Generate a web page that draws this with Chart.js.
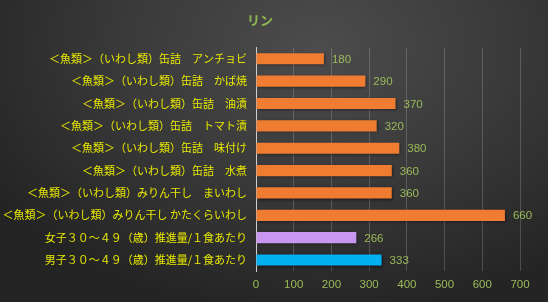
<!DOCTYPE html>
<html>
<head>
<meta charset="utf-8">
<script src="https://cdn.jsdelivr.net/npm/chart.js@4"></script>
<style>
  html, body { margin: 0; padding: 0; }
  body { width: 548px; height: 302px; overflow: hidden;
    background: radial-gradient(ellipse 70% 90% at 58% 15%, #4c4c4c 0%, #3a3a3a 50%, #242424 100%); }
  #wrap { width: 548px; height: 302px; }
</style>
</head>
<body>
<div id="wrap"><canvas id="grafico" width="548" height="302"></canvas></div>
<script>
const categorias = [
  '＜魚類＞（いわし類）缶詰　アンチョビ',
  '＜魚類＞（いわし類）缶詰　かば焼',
  '＜魚類＞（いわし類）缶詰　油漬',
  '＜魚類＞（いわし類）缶詰　トマト漬',
  '＜魚類＞（いわし類）缶詰　味付け',
  '＜魚類＞（いわし類）缶詰　水煮',
  '＜魚類＞（いわし類）みりん干し　まいわし',
  '＜魚類＞（いわし類）みりん干し かたくらいわし',
  '女子３０～４９（歳）推進量/１食あたり',
  '男子３０～４９（歳）推進量/１食あたり'
];
const valores = [180, 290, 370, 320, 380, 360, 360, 660, 266, 333];
const cores = ['#f07c32', '#f07c32', '#f07c32', '#f07c32', '#f07c32', '#f07c32', '#f07c32', '#f07c32', '#c898f0', '#00b0f0'];
const ticksX = [0, 100, 200, 300, 400, 500, 600, 700];

// rotulos de valor ao lado das barras
const rotulos = {
  id: 'rotulos',
  afterDatasetsDraw(chart) {
    const ctx = chart.ctx;
    const meta = chart.getDatasetMeta(0);
    ctx.save();
    ctx.font = '11.5px "Liberation Sans", Arial, sans-serif';
    ctx.fillStyle = '#9bbb59';
    ctx.textBaseline = 'middle';
    meta.data.forEach((bar, i) => {
      ctx.fillText(String(valores[i]), bar.x + 8, bar.y + 1);
    });
    ctx.restore();
  }
};

// sombra leve nas barras
const sombra = {
  id: 'sombra',
  beforeDatasetsDraw(chart) {
    chart.ctx.save();
    chart.ctx.shadowColor = 'rgba(0,0,0,0.55)';
    chart.ctx.shadowBlur = 3;
    chart.ctx.shadowOffsetX = 1;
    chart.ctx.shadowOffsetY = 1;
  },
  afterDatasetsDraw(chart) {
    chart.ctx.restore();
  }
};

new Chart(document.getElementById('grafico'), {
  type: 'bar',
  data: {
    labels: categorias,
    datasets: [{
      data: valores,
      backgroundColor: cores,
      borderWidth: 0,
      barPercentage: 0.5,
      categoryPercentage: 1.0
    }]
  },
  options: {
    indexAxis: 'y',
    responsive: false,
    animation: false,
    devicePixelRatio: 1,
    layout: { padding: { left: 0, right: 28, top: 6, bottom: 3 } },
    plugins: {
      legend: { display: false },
      tooltip: { enabled: false },
      title: {
        display: true,
        text: 'リン',
        color: '#8fb84e',
        font: { family: '"Noto Sans CJK JP"', size: 13, weight: 'bold' },
        padding: { top: 6, bottom: 20 }
      }
    },
    scales: {
      x: {
        min: 0,
        max: 700,
        afterBuildTicks(axis) { axis.ticks = ticksX.map(v => ({ value: v })); },
        grid: { color: 'rgba(255,255,255,0.18)', drawTicks: false },
        border: { display: false },
        ticks: {
          color: '#9bbb59',
          padding: 7,
          font: { family: '"Liberation Sans", Arial, sans-serif', size: 11.5 }
        }
      },
      y: {
        afterFit(axis) { axis.width = 256; },
        grid: { display: false, drawTicks: false },
        border: { display: true, color: '#cfcfcf', width: 1 },
        ticks: {
          color: '#e8e800',
          padding: 9,
          autoSkip: false,
          font: { family: '"Noto Sans CJK JP"', size: 11 }
        }
      }
    }
  },
  plugins: [sombra, rotulos]
});
</script>
</body>
</html>
